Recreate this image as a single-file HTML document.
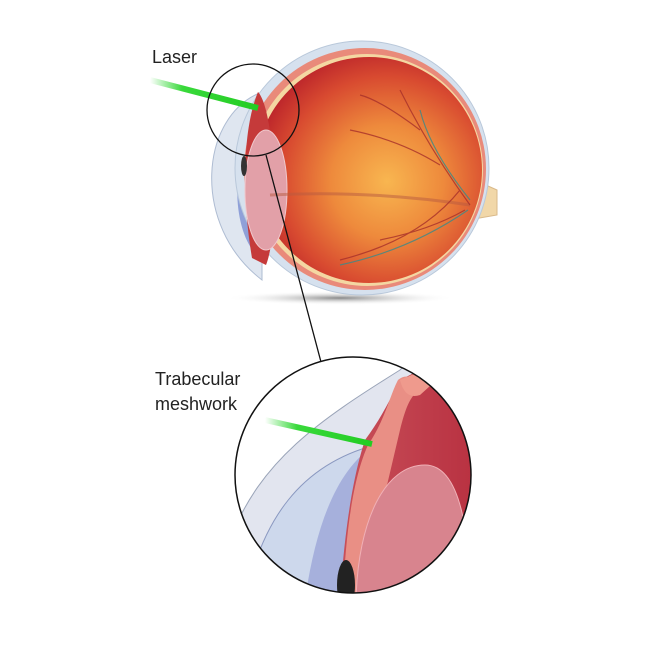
<!DOCTYPE html>
<html><head><style>html,body{margin:0;padding:0;background:#fff}svg{display:block}</style></head><body>
<svg width="650" height="650" viewBox="0 0 650 650" xmlns="http://www.w3.org/2000/svg">
<defs>
<radialGradient id="glob" cx="0.58" cy="0.55" r="0.62"><stop offset="0" stop-color="#f8b650"/><stop offset="0.4" stop-color="#ee8a3c"/><stop offset="0.75" stop-color="#d84a30"/><stop offset="1" stop-color="#b8202a"/></radialGradient>
<linearGradient id="laser" x1="0" x2="1"><stop offset="0" stop-color="#39d93b" stop-opacity="0"/><stop offset="0.3" stop-color="#39d93b"/><stop offset="1" stop-color="#22cc22"/></linearGradient>
<radialGradient id="shadow" cx="0.5" cy="0.5" r="0.5"><stop offset="0" stop-color="#888"/><stop offset="1" stop-color="#fff" stop-opacity="0"/></radialGradient>
<linearGradient id="red2" x1="0" x2="1"><stop offset="0" stop-color="#c8505a"/><stop offset="1" stop-color="#b83040"/></linearGradient>
<clipPath id="bc"><circle cx="353" cy="475" r="118"/></clipPath>
</defs>
<ellipse cx="340" cy="298" rx="115" ry="7" fill="url(#shadow)"/>
<path d="M470 178 L497 190 L497 215 L468 220 Z" fill="#f1d7a8" stroke="#d9b98a"/>
<path d="M262 92 C200 115 190 225 262 280 Z" fill="#dfe6f0" stroke="#aebcd2"/>
<path d="M262 120 C230 145 228 235 262 260 Z" fill="#8fa0d8"/>
<circle cx="362" cy="168" r="127" fill="#d6e1ee" stroke="#b9c8da"/>
<circle cx="365" cy="169" r="121" fill="#e98a7a"/>
<circle cx="367" cy="170" r="116" fill="#f4d7a2"/>
<circle cx="369" cy="170" r="113" fill="url(#glob)"/>
<path d="M258 92 C275 110 280 230 266 265 L252 258 C242 200 242 130 258 92 Z" fill="#c53a3a"/>
<ellipse cx="266" cy="190" rx="21" ry="60" fill="#e2a0a8" stroke="#f0c8cc"/>
<ellipse cx="244" cy="166" rx="3" ry="10" fill="#333"/>
<path d="M270 195 Q370 190 470 205" stroke="#b85a40" stroke-width="3" fill="none" opacity="0.5"/>
<g stroke="#a8302a" stroke-width="1.2" fill="none" opacity="0.8">
<path d="M470 205 Q430 150 400 90"/><path d="M440 165 Q400 140 350 130"/><path d="M460 190 Q420 240 340 260"/><path d="M465 210 Q430 230 380 240"/><path d="M420 130 Q380 100 360 95"/>
</g>
<g stroke="#3a8a8a" stroke-width="1.2" fill="none" opacity="0.8"><path d="M470 200 Q430 150 420 110"/><path d="M468 210 Q410 250 340 265"/></g>
<line x1="150" y1="80" x2="258" y2="108" stroke="url(#laser)" stroke-width="6"/>
<circle cx="253" cy="110" r="46" fill="none" stroke="#111" stroke-width="1.3"/>
<line x1="266" y1="155" x2="321" y2="362" stroke="#111" stroke-width="1.3"/>
<g clip-path="url(#bc)">
<rect x="230" y="350" width="250" height="250" fill="#fff"/>
<path d="M230 540 C260 460 320 420 400 370 L420 350 L480 350 L480 600 L230 600 Z" fill="#e2e5ef" stroke="#9aa4b8"/>
<path d="M245 600 C262 520 300 465 375 445 L380 600 Z" fill="#cdd8ec" stroke="#8a98c0"/>
<path d="M305 600 C315 530 335 470 375 445 L360 600 Z" fill="#a6b0dc"/>
<path d="M365 440 C380 420 390 400 400 380 L440 360 L480 350 L480 600 L340 600 C345 520 355 470 365 440 Z" fill="url(#red2)"/>
<path d="M368 445 C385 420 390 395 398 380 C410 370 420 385 420 390 C410 395 405 410 400 430 L360 600 L343 600 C345 540 352 480 368 445Z" fill="#e98f85"/>
<path d="M400 380 Q420 372 440 360 L470 350 L420 395 Q405 400 400 380Z" fill="#ef9a8d"/>
<path d="M356 600 C358 520 385 465 425 465 C462 465 470 540 470 600 Z" fill="#d8848e" stroke="#f0b0b6"/>
<ellipse cx="346" cy="585" rx="9" ry="25" fill="#222"/>
</g>
<circle cx="353" cy="475" r="118" fill="none" stroke="#111" stroke-width="1.5"/>
<line x1="265" y1="420" x2="372" y2="444" stroke="url(#laser)" stroke-width="6"/>
<g font-family="Liberation Sans, sans-serif" font-size="18" fill="#222">
<text x="152" y="63">Laser</text>
<text x="155" y="385">Trabecular</text>
<text x="155" y="410">meshwork</text>
</g>
</svg>
</body></html>
